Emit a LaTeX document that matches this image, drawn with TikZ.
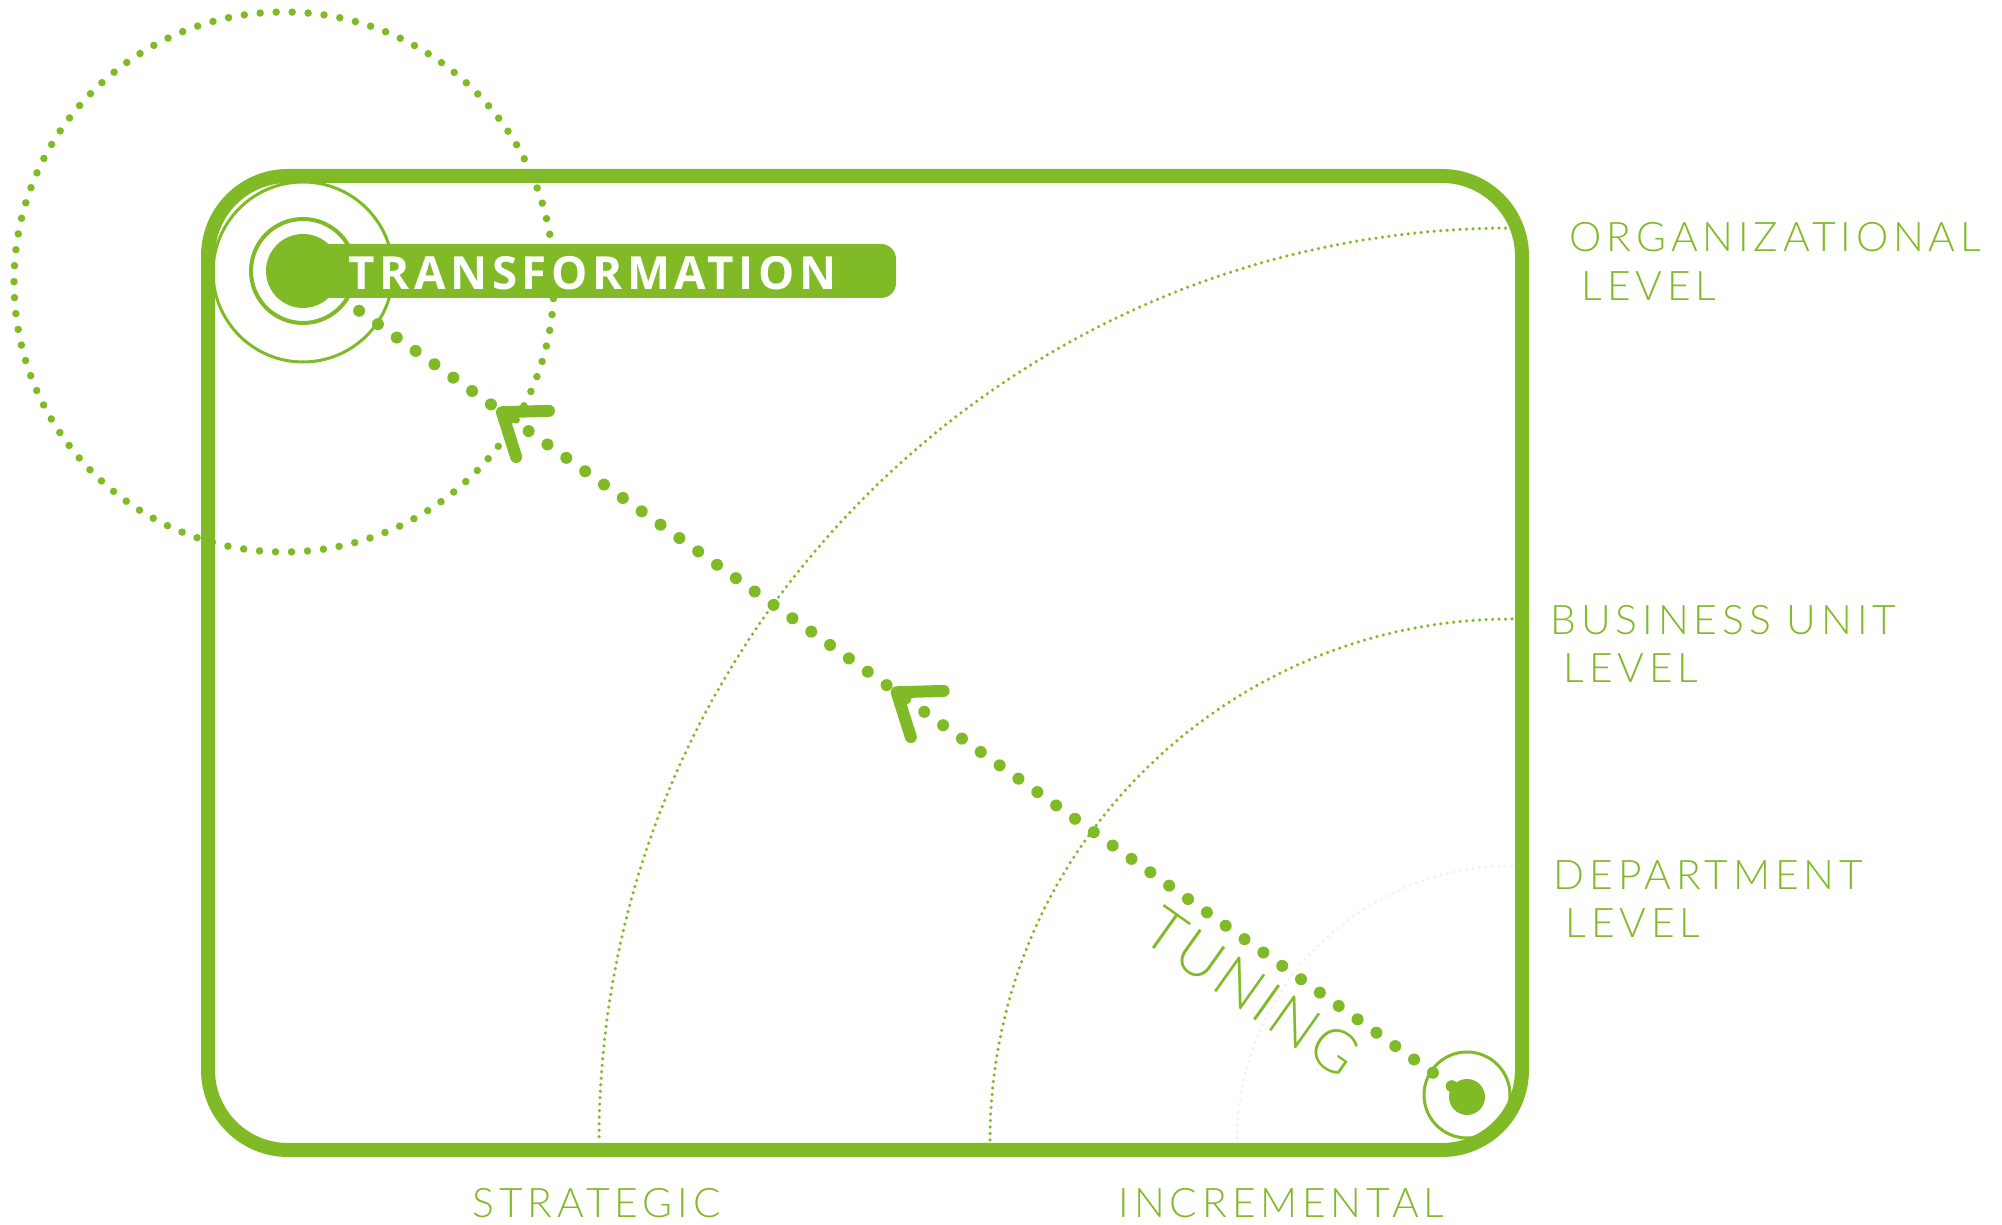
\documentclass[tikz,border=0pt]{standalone}
\usepackage{fontspec}
\usepackage{xcolor}
\usetikzlibrary{calc}

\definecolor{leaf}{HTML}{80BA27}
\newfontfamily\thinfont{Lato Light}[LetterSpace=12]
\newfontfamily\tunefont{Lato Light}[LetterSpace=6]
\newfontfamily\heavyfont{Open Sans}[LetterSpace=10]

\begin{document}
\begin{tikzpicture}[
  frame/.style={draw=leaf, line width=0.14cm, rounded corners=0.8cm},
  thinline/.style={draw=leaf, line width=0.03cm},
  bigdots/.style={draw=leaf, line width=0.075cm, line cap=round, dash pattern=on 0pt off 0.16cm},
  finedots/.style={line width=0.035cm, line cap=round, dash pattern=on 0pt off 0.065cm},
  pathdots/.style={draw=leaf, line width=0.12cm, line cap=round, dash pattern=on 0pt off 0.231cm},
  chevron/.style={draw=leaf, line width=0.12cm, line cap=round, line join=round},
  level/.style={anchor=base west, inner sep=0pt, text=leaf, font=\thinfont\fontsize{11.6}{12}\selectfont}
]
\useasboundingbox (0,0) rectangle (20.02,-12.25);

% outer frame
\draw[frame] (2.08,-1.76) rectangle (15.22,-11.50);

% level arcs round the inner lower right corner
\draw[finedots, draw=leaf] (15.12,-2.28) arc[start angle=90, end angle=180, radius=9.13];
\draw[finedots, draw=leaf] (15.12,-6.19) arc[start angle=90, end angle=180, radius=5.22];
\draw[finedots, draw=black!5] (15.12,-8.66) arc[start angle=90, end angle=180, radius=2.75];

% transformation corner
\draw[bigdots] (2.84,-2.82) circle (2.70);
\draw[thinline] (3.03,-2.72) circle (0.90);
\draw[thinline, line width=0.04cm] (3.03,-2.71) circle (0.52);
\fill[leaf, rounded corners=0.15cm] (3.03,-2.44) rectangle (8.96,-2.98);
\node[circle, fill=leaf, inner sep=0pt, minimum size=0.74cm] (transf) at (3.03,-2.71) {};
\node[anchor=base west, inner sep=0pt, text=white, font=\heavyfont\bfseries\fontsize{13}{13}\selectfont] (transftext) at (3.48,-2.90) {TRANSFORMATION};

% tuning corner
\draw[thinline] (14.67,-10.95) circle (0.43);
\node[circle, fill=leaf, inner sep=0pt, minimum size=0.36cm] (tune) at (14.67,-10.97) {};

% dotted path and its chevrons
\draw[pathdots, shorten >=0.30cm] (tune) -- (transf);
\coordinate (chevA) at ($(transf.center)!2.44cm!(tune.center)$);
\coordinate (chevB) at ($(transf.center)!7.28cm!(tune.center)$);
\foreach \c in {chevA,chevB}
  \draw[chevron, shift={(\c)}, rotate=144.6] (-0.375,0.283) -- (0,0) -- (-0.375,-0.283);

\node[rotate=-35.4, inner sep=0pt, text=leaf, font=\tunefont\fontsize{17}{18}\selectfont] (tuning) at (12.52,-9.92) {TUNING};

% level labels
\node[level] (org) at (15.69,-2.52) {ORGANIZATIONAL};
\node[level] (orglevel) at (15.81,-3.01) {LEVEL};
\node[level] (unit) at (15.50,-6.35) {BUSINESS UNIT};
\node[level] (unitlevel) at (15.63,-6.83) {LEVEL};
\node[level] (dept) at (15.53,-8.90) {DEPARTMENT};
\node[level] (deptlevel) at (15.65,-9.38) {LEVEL};

% axis labels
\node[level] (strategic) at (4.72,-12.18) {STRATEGIC};
\node[level] (incremental) at (11.18,-12.18) {INCREMENTAL};

\end{tikzpicture}
\end{document}
